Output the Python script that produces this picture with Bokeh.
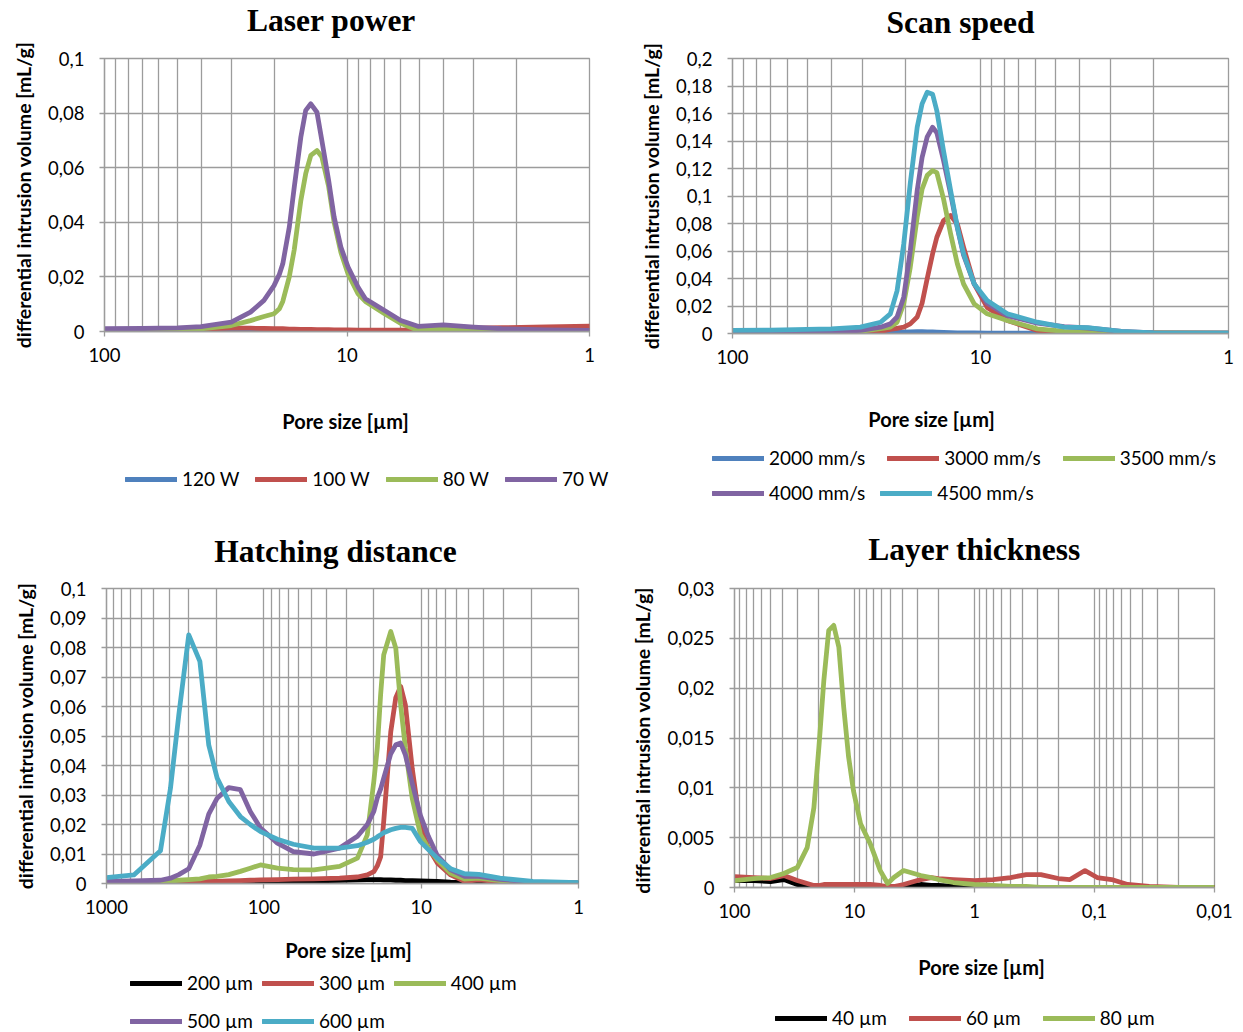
import math
from bokeh.plotting import figure
from bokeh.models import (Range1d, FixedTicker, CustomJSTickFormatter, Label,
                          Legend, LegendItem)
from bokeh.layouts import column, row
from bokeh.embed import file_html
from bokeh.resources import INLINE

# ---------------- data ----------------
# Laser power
lp_pore = [100, 70, 50, 40, 30, 25, 22, 20, 19, 18.4, 17.3, 16.5, 15.5, 14.8, 14.1, 13.3,
           12.7, 11.9, 11.3, 10.6, 9.9, 9.0, 8.4, 7.0, 6.0, 5.1, 4.0, 3.0, 2.3, 1.5, 1.0]
lp_120W = [0.0002, 0.0002, 0.0002, 0.0001, 0.0001, 0.0001, 0.0001, 0.0001, 0.0001, 0.0001,
           0.0001, 0.0001, 0.0001, 0.0001, 0.0001, 0.0001, 0.0001, 0.0001, 0.0001, 0.0001,
           0.0001, 0.0001, 0.0001, 0.0001, 0.0001, 0.0001, 0.0002, 0.0002, 0.0002, 0.0002, 0.0002]
lp_100W = [0.0002, 0.0003, 0.0006, 0.0009, 0.0012, 0.0012, 0.0011, 0.0010, 0.0010, 0.0010,
           0.0009, 0.0009, 0.0008, 0.0008, 0.0008, 0.0007, 0.0007, 0.0007, 0.0006, 0.0006,
           0.0006, 0.0005, 0.0005, 0.0005, 0.0005, 0.0006, 0.0008, 0.0012, 0.0014, 0.0017, 0.0020]
lp_80W = [0.0004, 0.0005, 0.0007, 0.0010, 0.0022, 0.0040, 0.0055, 0.0065, 0.0083, 0.0110,
          0.0200, 0.0300, 0.0480, 0.0578, 0.0645, 0.0663, 0.0640, 0.0530, 0.0400, 0.0290,
          0.0211, 0.0138, 0.0110, 0.0065, 0.0030, 0.0004, 0.0010, 0.0008, 0.0005, 0.0003, 0.0002]
lp_70W = [0.0010, 0.0011, 0.0013, 0.0018, 0.0034, 0.0071, 0.0114, 0.0168, 0.0210, 0.0248,
          0.0382, 0.0529, 0.0712, 0.0810, 0.0834, 0.0803, 0.0700, 0.0553, 0.0419, 0.0309,
          0.0236, 0.0162, 0.0120, 0.0077, 0.0040, 0.0019, 0.0024, 0.0016, 0.0010, 0.0006, 0.0004]
lp_labels = ["120 W", "100 W", "80 W", "70 W"]
lp_yticks = [0, 0.02, 0.04, 0.06, 0.08, 0.1]

# Scan speed
ss_pore = [100, 70, 50, 40, 30.5, 25.3, 23.1, 21.7, 20.4, 19.2, 18.0, 17.2, 16.4, 15.6, 15.0,
           14.1, 13.2, 12.4, 11.7, 10.6, 9.4, 7.8, 5.9, 4.6, 3.7, 2.7, 2.0, 1.0]
ss_2000 = [0.0003, 0.0003, 0.0003, 0.0003, 0.0004, 0.0005, 0.0006, 0.0008, 0.0010, 0.0012,
           0.0013, 0.0013, 0.0012, 0.0011, 0.0010, 0.0008, 0.0006, 0.0005, 0.0004, 0.0004,
           0.0003, 0.0003, 0.0003, 0.0003, 0.0003, 0.0003, 0.0003, 0.0003]
ss_3000 = [0.0003, 0.0003, 0.0005, 0.0007, 0.0010, 0.0015, 0.0030, 0.0038, 0.0046, 0.0070,
           0.0120, 0.0220, 0.0400, 0.0580, 0.0700, 0.0820, 0.0858, 0.0797, 0.0627, 0.0360,
           0.0190, 0.0095, 0.0022, 0.0005, 0.0006, 0.0005, 0.0004, 0.0003]
ss_3500 = [0.0003, 0.0004, 0.0006, 0.0009, 0.0015, 0.0035, 0.0046, 0.0082, 0.0216, 0.0480,
           0.0846, 0.1050, 0.1150, 0.1185, 0.1170, 0.0980, 0.0725, 0.0507, 0.0360, 0.0216,
           0.0143, 0.0095, 0.0034, 0.0015, 0.0010, 0.0008, 0.0005, 0.0003]
ss_4000 = [0.0005, 0.0006, 0.0008, 0.0010, 0.0022, 0.0046, 0.0070, 0.0120, 0.0264, 0.0600,
           0.1040, 0.1280, 0.1430, 0.1500, 0.1460, 0.1260, 0.1016, 0.0770, 0.0570, 0.0360,
           0.0220, 0.0130, 0.0075, 0.0050, 0.0040, 0.0015, 0.0005, 0.0003]
ss_4500 = [0.0022, 0.0025, 0.0030, 0.0034, 0.0046, 0.0082, 0.0143, 0.0310, 0.0650, 0.1090,
           0.1500, 0.1670, 0.1755, 0.1740, 0.1620, 0.1330, 0.1040, 0.0773, 0.0580, 0.0360,
           0.0240, 0.0143, 0.0082, 0.0046, 0.0042, 0.0015, 0.0005, 0.0003]
ss_labels = ["2000 mm/s", "3000 mm/s", "3500 mm/s", "4000 mm/s", "4500 mm/s"]
ss_yticks = [0, 0.02, 0.04, 0.06, 0.08, 0.1, 0.12, 0.14, 0.16, 0.18, 0.2]

# Hatching distance
hd_pore = [1000, 670, 454, 392, 347, 300, 255, 224, 198, 167, 141, 122, 105, 82, 65, 48, 33,
           25.4, 22, 20, 19, 18.1, 17.3, 15.6, 14.5, 13.5, 12.6, 11.4, 10.1, 9.0, 7.9, 6.5,
           5.3, 4.3, 3.15, 1.95, 1.0]
hd_200 = [0.0001, 0.0001, 0.0002, 0.0002, 0.0002, 0.0003, 0.0003, 0.0004, 0.0004, 0.0005,
          0.0005, 0.0006, 0.0006, 0.0007, 0.0008, 0.0009, 0.0011, 0.0012, 0.0013, 0.0013,
          0.0013, 0.0013, 0.0012, 0.0012, 0.0011, 0.0011, 0.0010, 0.0010, 0.0009, 0.0008,
          0.0007, 0.0005, 0.0004, 0.0003, 0.0002, 0.0001, 0.0000]
hd_300 = [0.0001, 0.0002, 0.0003, 0.0004, 0.0004, 0.0005, 0.0006, 0.0007, 0.0007, 0.0009,
          0.0010, 0.0011, 0.0012, 0.0013, 0.0015, 0.0016, 0.0018, 0.0022, 0.0029, 0.0040,
          0.0060, 0.0090, 0.0210, 0.0515, 0.0630, 0.0668, 0.0606, 0.0390, 0.0190, 0.0120,
          0.0070, 0.0029, 0.0007, 0.0012, 0.0006, 0.0003, 0.0001]
hd_400 = [0.0003, 0.0005, 0.0008, 0.0009, 0.0011, 0.0013, 0.0016, 0.0022, 0.0024, 0.0030,
          0.0041, 0.0052, 0.0063, 0.0052, 0.0047, 0.0046, 0.0058, 0.0086, 0.0165, 0.0346,
          0.0460, 0.0640, 0.0775, 0.0854, 0.0798, 0.0606, 0.0459, 0.0289, 0.0165, 0.0120,
          0.0080, 0.0035, 0.0015, 0.0018, 0.0010, 0.0004, 0.0002]
hd_500 = [0.0007, 0.0009, 0.0011, 0.0018, 0.0030, 0.0050, 0.0130, 0.0235, 0.0289, 0.0325,
          0.0318, 0.0244, 0.0188, 0.0137, 0.0108, 0.0100, 0.0120, 0.0160, 0.0200, 0.0244,
          0.0290, 0.0320, 0.0357, 0.0440, 0.0470, 0.0476, 0.0436, 0.0340, 0.0230, 0.0160,
          0.0095, 0.0046, 0.0024, 0.0024, 0.0014, 0.0005, 0.0002]
hd_600 = [0.0020, 0.0029, 0.0111, 0.0323, 0.0572, 0.0843, 0.0753, 0.0470, 0.0357, 0.0278,
          0.0227, 0.0200, 0.0176, 0.0150, 0.0133, 0.0120, 0.0120, 0.0128, 0.0140, 0.0150,
          0.0158, 0.0165, 0.0172, 0.0182, 0.0187, 0.0190, 0.0190, 0.0187, 0.0142, 0.0115,
          0.0086, 0.0050, 0.0033, 0.0031, 0.0018, 0.0007, 0.0003]
hd_labels = ["200 µm", "300 µm", "400 µm", "500 µm", "600 µm"]
hd_yticks = [0, 0.01, 0.02, 0.03, 0.04, 0.05, 0.06, 0.07, 0.08, 0.09, 0.1]

# Layer thickness
lt_pore = [100, 69, 50, 38.8, 30, 24.8, 21.8, 19.8, 18, 16.4, 14.9, 13.5, 12.3, 11.2, 10.2,
           8.9, 7.4, 6.1, 5.3, 4.7, 3.9, 2.8, 2.3, 2.0, 1.5, 1.0, 0.7, 0.5, 0.37, 0.28, 0.2,
           0.16, 0.12, 0.095, 0.072, 0.053, 0.035, 0.02, 0.01]
lt_40 = [0.0007, 0.0007, 0.0006, 0.0008, 0.0003, 0.0001, 0.0000, 0.0000, 0.0000, 0.0001,
         0.0001, 0.0001, 0.0000, 0.0000, 0.0000, 0.0000, 0.0000, 0.0000, 0.0001, 0.0001,
         0.0001, 0.0003, 0.0002, 0.0002, 0.0001, 0.0001, 0.0000, 0.0000, 0.0000, 0.0000,
         0.0000, 0.0000, 0.0000, 0.0000, 0.0000, 0.0000, 0.0000, 0.0000, 0.0000]
lt_60 = [0.0011, 0.0010, 0.0009, 0.0012, 0.0007, 0.0004, 0.0002, 0.0002, 0.0003, 0.0003,
         0.0003, 0.0003, 0.0003, 0.0003, 0.0003, 0.0003, 0.0003, 0.0002, 0.0001, 0.0001,
         0.0003, 0.0008, 0.0010, 0.0009, 0.0008, 0.0007, 0.0008, 0.0010, 0.0013, 0.0013,
         0.0009, 0.0008, 0.0017, 0.0010, 0.0008, 0.0003, 0.0001, 0.0000, 0.0000]
lt_80 = [0.0007, 0.0009, 0.0010, 0.0014, 0.0020, 0.0040, 0.0080, 0.0141, 0.0208, 0.0258,
         0.0263, 0.0241, 0.0181, 0.0131, 0.0097, 0.0064, 0.0044, 0.0017, 0.0004, 0.0010,
         0.0017, 0.0012, 0.0010, 0.0008, 0.0005, 0.0003, 0.0002, 0.0001, 0.0001, 0.0000,
         0.0000, 0.0000, 0.0000, 0.0000, 0.0000, 0.0000, 0.0000, 0.0000, 0.0000]
lt_labels = ["40 µm", "60 µm", "80 µm"]
lt_yticks = [0, 0.005, 0.01, 0.015, 0.02, 0.025, 0.03]

# ---------------- style ----------------
BLUE, RED, GREEN, PURPLE, AQUA, BLACK = "#4F81BD", "#C0504D", "#9BBB59", "#8064A2", "#4BACC6", "#000000"
GRID = "#9C9C9C"
SANS = "Lato"
SERIF = "Liberation Serif"
TICK_SIZE = "18.5px"
LEG_SIZE = "19px"
LW = 4.8

XFMT = "return tick.toString().replace('.', ',');"
YFMT = "return (Math.round(tick*1e6)/1e6).toString().replace('.', ',');"


def blank(w, h, yr=(0, 1)):
    f = figure(width=w, height=h, x_range=Range1d(0, 1), y_range=Range1d(yr[0], yr[1]),
               x_axis_location=None, y_axis_location=None,
               output_backend="svg", toolbar_location=None,
               min_border_left=0, min_border_right=0, min_border_top=0, min_border_bottom=0)
    f.outline_line_color = None
    f.background_fill_color = "white"
    f.border_fill_color = "white"
    f.xgrid.visible = False
    f.ygrid.visible = False
    return f


def make_header(w, h, title, xy):
    f = blank(w, h)
    f.add_layout(Label(x=xy[0], y=xy[1], x_units="screen", y_units="screen",
                       text=title, text_align="center", text_baseline="middle",
                       text_font=SERIF, text_font_size="31.5px", text_font_style="bold",
                       text_color="#000000"))
    return f


def make_chart(xs, w, h, bl, br, bt, bb, xr, yr, yticks, series, colors, ylabel):
    p = figure(width=w, height=h, x_axis_type="log",
               x_range=Range1d(xr[0], xr[1]), y_range=Range1d(yr[0], yr[1]),
               output_backend="svg", toolbar_location=None,
               min_border_left=bl, min_border_right=br,
               min_border_top=bt, min_border_bottom=bb)
    p.background_fill_color = "white"
    p.border_fill_color = "white"
    p.outline_line_color = GRID
    p.outline_line_width = 1.3

    lo = int(round(math.log10(min(xr))))
    hi = int(round(math.log10(max(xr))))
    majors = [10.0 ** e for e in range(lo, hi + 1)]
    minors = [m * 10.0 ** e for e in range(lo, hi) for m in range(2, 10)]
    xt = FixedTicker(ticks=majors, minor_ticks=minors)
    yt = FixedTicker(ticks=yticks, minor_ticks=[])
    p.xaxis.ticker = xt
    p.xgrid.ticker = xt
    p.yaxis.ticker = yt
    p.ygrid.ticker = yt
    p.xaxis.formatter = CustomJSTickFormatter(code=XFMT)
    p.yaxis.formatter = CustomJSTickFormatter(code=YFMT)

    for g in (p.xgrid, p.ygrid):
        g.grid_line_color = GRID
        g.grid_line_width = 1.3
    p.xgrid.minor_grid_line_color = GRID
    p.xgrid.minor_grid_line_width = 1.3

    for ax in (p.xaxis, p.yaxis):
        ax.axis_line_color = GRID
        ax.axis_line_width = 1.3
        ax.major_tick_line_color = GRID
        ax.major_tick_line_width = 1.3
        ax.major_tick_out = 5
        ax.major_tick_in = 0
        ax.minor_tick_out = 0
        ax.minor_tick_in = 0
        ax.major_label_text_font = SANS
        ax.major_label_text_font_size = TICK_SIZE
        ax.major_label_text_color = "#000000"
    p.xaxis.major_label_standoff = 11
    p.yaxis.major_label_standoff = 15

    p.yaxis.axis_label = ylabel
    p.yaxis.axis_label_standoff = 10
    p.yaxis.axis_label_text_font = SANS
    p.yaxis.axis_label_text_font_size = "19.5px"
    p.yaxis.axis_label_text_font_style = "bold"
    p.yaxis.axis_label_text_color = "#000000"

    for ys, col in zip(series, colors):
        p.line(x=xs, y=ys, line_color=col, line_width=LW,
               line_join="round", line_cap="round")
    return p


def make_footer(w, h, xs, series, labels, colors, xlabel_xy, legend_rows):
    # the legend keys reuse the series, drawn outside this strip's visible range
    f = blank(w, h, yr=(10, 11))
    renderers = []
    for ys, col in zip(series, colors):
        renderers.append(f.line(x=xs, y=ys, line_color=col, line_width=LW, line_cap="round"))
    for idx, loc, spacing in legend_rows:
        items = [LegendItem(label=labels[i], renderers=[renderers[i]]) for i in idx]
        leg = Legend(items=items, location=loc, orientation="horizontal",
                     padding=0, margin=0, spacing=spacing,
                     glyph_width=52, glyph_height=20, label_height=20, label_standoff=5,
                     label_text_font=SANS, label_text_font_size=LEG_SIZE,
                     label_text_color="#000000",
                     border_line_color=None, background_fill_alpha=0)
        f.add_layout(leg)
    f.add_layout(Label(x=xlabel_xy[0], y=xlabel_xy[1], x_units="screen", y_units="screen",
                       text="Pore size [µm]", text_align="center", text_baseline="middle",
                       text_font=SANS, text_font_size="20px", text_font_style="bold",
                       text_color="#000000"))
    return f


YLAB = "differential intrusion volume [mL/g]"

lp_series = [lp_120W, lp_100W, lp_80W, lp_70W]
ss_series = [ss_2000, ss_3000, ss_3500, ss_4000, ss_4500]
hd_series = [hd_200, hd_300, hd_400, hd_500, hd_600]
lt_series = [lt_40, lt_60, lt_80]
lp_colors = [BLUE, RED, GREEN, PURPLE]
ss_colors = [BLUE, RED, GREEN, PURPLE, AQUA]
hd_colors = [BLACK, RED, GREEN, PURPLE, AQUA]
lt_colors = [BLACK, RED, GREEN]

h1 = make_header(621, 38, "Laser power", (331, 18))
c1 = make_chart(lp_pore, 621, 347, 104, 32, 20, 54, (100, 1), (0, 0.1), lp_yticks,
                lp_series, lp_colors, YLAB)
f1 = make_footer(621, 131, lp_pore, lp_series, lp_labels, lp_colors, (345, 96),
                 [([0, 1, 2, 3], (125, 26), 16)])

h2 = make_header(622, 40, "Scan speed", (339, 18))
c2 = make_chart(ss_pore, 622, 345, 111, 15, 18, 52, (100, 1), (0, 0.2), ss_yticks,
                ss_series, ss_colors, YLAB)
f2 = make_footer(622, 131, ss_pore, ss_series, ss_labels, ss_colors, (310, 98),
                 [([0, 1, 2], (91, 47), 22), ([3, 4], (91, 12), 15)])

h3 = make_header(621, 55, "Hatching distance", (335, 20))
c3 = make_chart(hd_pore, 621, 359, 106, 43, 17, 47, (1000, 1), (0, 0.1), hd_yticks,
                hd_series, hd_colors, YLAB)
f3 = make_footer(621, 102, hd_pore, hd_series, hd_labels, hd_colors, (348, 83),
                 [([0, 1, 2], (130, 38), 9), ([3, 4], (130, 0), 9)])

h4 = make_header(622, 55, "Layer thickness", (353, 22))
c4 = make_chart(lt_pore, 622, 359, 113, 29, 17, 43, (100, 0.01), (0, 0.03), lt_yticks,
                lt_series, lt_colors, "differential intrusion volume  [mL/g]")
f4 = make_footer(622, 102, lt_pore, lt_series, lt_labels, lt_colors, (360, 66),
                 [([0, 1, 2], (154, 3), 22)])

q1 = column(row(h1), c1, row(f1))
q2 = column(row(h2), c2, row(f2))
q3 = column(row(h3), c3, row(f3))
q4 = column(row(h4), c4, row(f4))
layout = column(row(q1, q2), row(q3, q4))
open("out.html", "w").write(file_html(layout, INLINE))
